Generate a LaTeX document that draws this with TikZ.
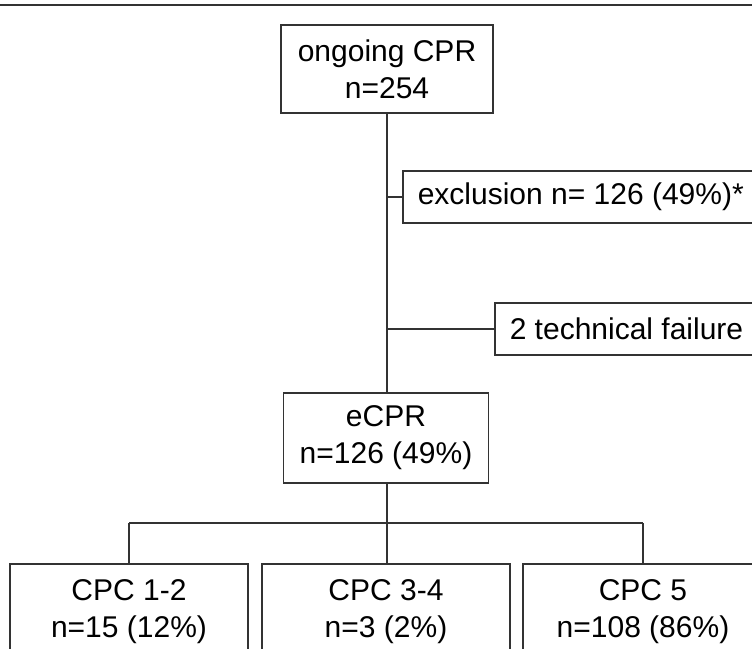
\documentclass[tikz,border=0pt]{standalone}
\usepackage{fontspec}
\setmainfont{Liberation Sans}
\usetikzlibrary{positioning}

\begin{document}
\begin{tikzpicture}[
  x=1pt, y=1pt,
  every node/.style={draw=black!80, line width=1.5pt, align=center,
    text=black, font=\fontsize{30}{37}\selectfont},
  box/.style={minimum width=212pt, minimum height=88pt},
  side/.style={anchor=west, inner xsep=15pt, minimum height=52pt},
  outc/.style={anchor=north, minimum width=240pt, minimum height=96pt},
  link/.style={draw=black!80, line width=1.5pt}
]
  \clip (0,0) rectangle (752,-648);
  \draw[link, line width=2pt] (0,-4.7) -- (752,-4.7);

  \node[box] (ongoing) at (387,-69) {ongoing CPR\\n=254};
  \node[side] (excl) at (402,-197) {exclusion n= 126 (49\%)*};
  \node[side] (tech) at (494,-329) {2 technical failure};
  \node[box, minimum width=205pt, minimum height=90pt] (ecpr) at (386,-438) {eCPR\\n=126 (49\%)};

  \node[outc, minimum width=238pt] (cpc12) at (129,-563) {CPC 1-2\\n=15 (12\%)};
  \node[outc, minimum width=248pt] (cpc34) at (386,-563) {CPC 3-4\\n=3 (2\%)};
  \node[outc] (cpc5) at (643,-563) {CPC 5\\n=108 (86\%)};
  \coordinate (split) at (387,-523);

  \draw[link] (ongoing.south) -- (ongoing.south |- ecpr.north);
  \draw[link] (ongoing.south |- excl.west) -- (excl.west);
  \draw[link] (ongoing.south |- tech.west) -- (tech.west);
  \draw[link] (ecpr.south -| split) -- (split);
  \draw[link] (cpc12.north |- split) -- (cpc5.north |- split);
  \draw[link] (cpc12.north |- split) -- (cpc12.north);
  \draw[link] (split) -- (cpc34.north -| split);
  \draw[link] (cpc5.north |- split) -- (cpc5.north);
\end{tikzpicture}
\end{document}
